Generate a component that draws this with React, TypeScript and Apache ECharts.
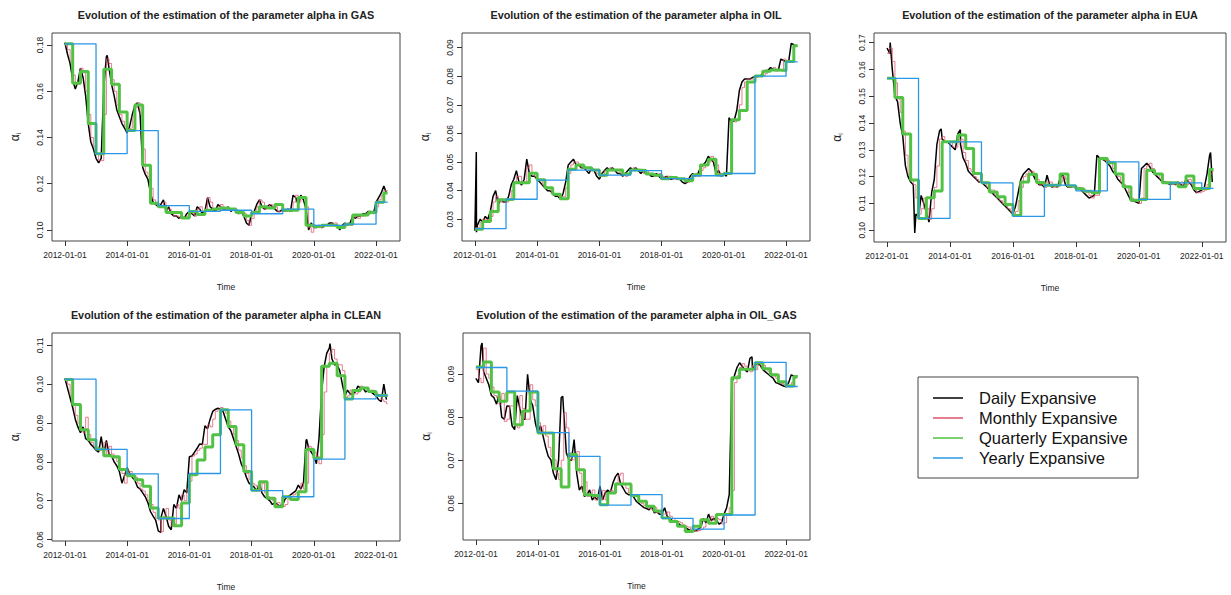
import { useEffect, useRef } from "react";
import * as echarts from "echarts";

// ---- time grid -----------------------------------------------------------
const FIRST_YEAR = 2012;
const LAST_OBS = 2022 + 4.5 / 12; // last estimation date (mid May 2022)
const X_MIN = 2011.585;
const X_MAX = 2022.77;
const xTicks = [2012, 2014, 2016, 2018, 2020, 2022];

const assets = ["GAS", "OIL", "EUA", "CLEAN", "OIL_GAS"];

// ---- daily expansive estimates (sampled once a month, Jan 2012 - May 2022)
const gasDaily = [
  0.181, 0.176, 0.172, 0.165, 0.161, 0.164, 0.170, 0.166, 0.158, 0.146, 0.138, 0.135,
  0.131, 0.129, 0.131, 0.162, 0.175, 0.170, 0.163, 0.158, 0.152, 0.149, 0.146, 0.144,
  0.142, 0.145, 0.150, 0.154, 0.155, 0.150, 0.127, 0.124, 0.122, 0.116, 0.112, 0.111,
  0.110, 0.111, 0.113, 0.108, 0.110, 0.107, 0.106, 0.106, 0.105, 0.106, 0.105, 0.107,
  0.108, 0.107, 0.106, 0.110, 0.109, 0.107, 0.108, 0.114, 0.110, 0.109, 0.108, 0.111,
  0.110, 0.109, 0.109, 0.110, 0.108, 0.109, 0.108, 0.107, 0.108, 0.106, 0.103, 0.102,
  0.107, 0.108, 0.111, 0.113, 0.110, 0.109, 0.110, 0.111, 0.110, 0.109, 0.108, 0.108,
  0.109, 0.108, 0.109, 0.108, 0.115, 0.114, 0.111, 0.115, 0.113, 0.109, 0.100, 0.103,
  0.101, 0.101, 0.102, 0.101, 0.102, 0.102, 0.103, 0.103, 0.102, 0.102, 0.100, 0.102,
  0.103, 0.102, 0.103, 0.106, 0.105, 0.106, 0.106, 0.107, 0.107, 0.108, 0.108, 0.107,
  0.112, 0.114, 0.116, 0.119, 0.116,
];
const oilDaily = [
  0.026, 0.028, 0.030, 0.029, 0.031, 0.030, 0.033, 0.038, 0.040, 0.035, 0.037, 0.036,
  0.036, 0.038, 0.042, 0.044, 0.047, 0.043, 0.042, 0.044, 0.051, 0.046, 0.045, 0.045,
  0.044, 0.043, 0.042, 0.041, 0.040, 0.040, 0.039, 0.038, 0.038, 0.037, 0.039, 0.043,
  0.049, 0.050, 0.051, 0.049, 0.049, 0.048, 0.048, 0.047, 0.046, 0.048, 0.047, 0.045,
  0.044, 0.046, 0.047, 0.048, 0.047, 0.048, 0.047, 0.046, 0.046, 0.045, 0.046, 0.047,
  0.048, 0.047, 0.048, 0.047, 0.046, 0.047, 0.046, 0.046, 0.045, 0.045, 0.046, 0.045,
  0.044, 0.0445, 0.045, 0.044, 0.044, 0.0445, 0.044, 0.044, 0.043, 0.0425, 0.043, 0.045,
  0.046, 0.045, 0.046, 0.048, 0.049, 0.050, 0.052, 0.051, 0.050, 0.046, 0.047, 0.045,
  0.046, 0.045, 0.0655, 0.064, 0.0645, 0.068, 0.075, 0.078, 0.079, 0.079, 0.079, 0.0795,
  0.080, 0.080, 0.080, 0.081, 0.082, 0.082, 0.083, 0.0825, 0.082, 0.082, 0.086, 0.0855,
  0.085, 0.085, 0.0915, 0.091, 0.0905,
];
const euaDaily = [
  0.168, 0.166, 0.160, 0.150, 0.148, 0.140, 0.135, 0.124, 0.120, 0.118, 0.117, 0.106,
  0.105, 0.113, 0.110, 0.1065, 0.103, 0.114, 0.119, 0.132, 0.137, 0.134, 0.133, 0.133,
  0.132, 0.131, 0.130, 0.136, 0.132, 0.127, 0.125, 0.122, 0.121, 0.120, 0.119, 0.118,
  0.118, 0.117, 0.116, 0.115, 0.114, 0.113, 0.112, 0.111, 0.110, 0.109, 0.108, 0.107,
  0.106, 0.109, 0.114, 0.119, 0.121, 0.122, 0.123, 0.122, 0.120, 0.118, 0.117, 0.117,
  0.116, 0.1205, 0.117, 0.116, 0.117, 0.116, 0.1195, 0.121, 0.117, 0.116, 0.116, 0.1165,
  0.116, 0.1155, 0.115, 0.114, 0.113, 0.112, 0.1125, 0.113, 0.128, 0.127, 0.1265, 0.126,
  0.125, 0.124, 0.122, 0.121, 0.119, 0.118, 0.117, 0.115, 0.113, 0.111, 0.111, 0.1105,
  0.110, 0.123, 0.124, 0.125, 0.124, 0.122, 0.121, 0.120, 0.119, 0.118, 0.118, 0.1175,
  0.117, 0.1175, 0.117, 0.118, 0.117, 0.1165, 0.119, 0.118, 0.117, 0.115, 0.114, 0.1145,
  0.115, 0.116, 0.121, 0.128, 0.118,
];
const cleanDaily = [
  0.1015, 0.099, 0.0965, 0.094, 0.091, 0.089, 0.0875, 0.089, 0.086, 0.0855, 0.0845, 0.0838,
  0.083, 0.0825, 0.0865, 0.082, 0.0855, 0.082, 0.0815, 0.080, 0.079, 0.0775, 0.0745, 0.0765,
  0.0785, 0.077, 0.076, 0.0752, 0.0735, 0.073, 0.072, 0.071, 0.0695, 0.0672, 0.066, 0.065,
  0.0622, 0.0655, 0.068, 0.066, 0.0634, 0.0625, 0.069, 0.068, 0.0715, 0.070, 0.0728, 0.072,
  0.0813, 0.0815, 0.0825, 0.0835, 0.0846, 0.0845, 0.0893, 0.0885, 0.091, 0.093, 0.0935, 0.0938,
  0.0935, 0.093, 0.091, 0.089, 0.088, 0.086, 0.084, 0.082, 0.0795, 0.078, 0.076, 0.0745,
  0.074, 0.0735, 0.0725, 0.0745, 0.072, 0.071, 0.0705, 0.070, 0.069, 0.0695, 0.069, 0.0685,
  0.069, 0.0705, 0.071, 0.0715, 0.072, 0.0725, 0.074, 0.073, 0.0745, 0.0855, 0.0835, 0.0825,
  0.0815, 0.0795, 0.086, 0.098, 0.1046, 0.108, 0.1093, 0.1065, 0.105, 0.105, 0.1035, 0.100,
  0.097, 0.0985, 0.0975, 0.0975, 0.098, 0.0995, 0.099, 0.099, 0.098, 0.0985, 0.098, 0.0975,
  0.097, 0.096, 0.0955, 0.100, 0.096,
];
const oilGasDaily = [
  0.089, 0.088, 0.0965, 0.0905, 0.089, 0.0875, 0.085, 0.0845, 0.083, 0.0855, 0.080, 0.0795,
  0.0826, 0.0825, 0.078, 0.0771, 0.085, 0.082, 0.0795, 0.0795, 0.0899, 0.0841, 0.0826, 0.0787,
  0.0763, 0.078, 0.0756, 0.073, 0.0709, 0.0701, 0.067, 0.0655, 0.0701, 0.0845, 0.081, 0.0717,
  0.0701, 0.070, 0.0748, 0.067, 0.0631, 0.064, 0.0616, 0.062, 0.0631, 0.0608, 0.0615, 0.0608,
  0.064, 0.0608, 0.0624, 0.0631, 0.0625, 0.0647, 0.0662, 0.067, 0.0645, 0.0635, 0.0624, 0.062,
  0.062, 0.0615, 0.0605, 0.060, 0.0595, 0.059, 0.0588, 0.0585, 0.0593, 0.0578, 0.058, 0.0575,
  0.0575, 0.059, 0.057, 0.0565, 0.056, 0.0558, 0.0555, 0.055, 0.0547, 0.0545, 0.054, 0.0537,
  0.0535, 0.0537, 0.054, 0.0545, 0.0565, 0.0555, 0.0575, 0.056, 0.0565, 0.0562, 0.0552, 0.0555,
  0.0575, 0.059, 0.062, 0.088, 0.0896, 0.0915, 0.0926, 0.0918, 0.091, 0.0905, 0.0936, 0.091,
  0.092, 0.0925, 0.092, 0.091, 0.0905, 0.090, 0.0895, 0.089, 0.088, 0.0878, 0.0875, 0.0872,
  0.087, 0.088, 0.0898, 0.0895, 0.089,
];

// isolated one-day jumps of the daily estimate: [year, value]
const gasSpikes: number[][] = [[2013.36, 0.1755]];
const oilSpikes: number[][] = [[2012.045, 0.0535], [2012.05, 0.0255]];
const euaSpikes: number[][] = [[2012.1, 0.170], [2012.88, 0.099], [2013.72, 0.1378], [2014.33, 0.1375], [2022.28, 0.129]];
const cleanSpikes: number[][] = [[2015.08, 0.0618], [2019.77, 0.0858], [2020.52, 0.1105]];
const oilGasSpikes: number[][] = [[2012.2, 0.0972], [2014.8, 0.0848], [2020.9, 0.094]];

// ---- monthly expansive estimates (Jan 2012 - May 2022)
const gasMonthly = [
  0.180, 0.178, 0.173, 0.167, 0.163, 0.163, 0.170, 0.168, 0.160, 0.150, 0.140, 0.136,
  0.133, 0.130, 0.130, 0.150, 0.174, 0.172, 0.165, 0.160, 0.154, 0.150, 0.147, 0.145,
  0.143, 0.144, 0.149, 0.153, 0.155, 0.150, 0.135, 0.125, 0.123, 0.118, 0.113, 0.111,
  0.110, 0.110, 0.112, 0.109, 0.109, 0.108, 0.106, 0.106, 0.105, 0.105, 0.105, 0.106,
  0.108, 0.107, 0.106, 0.109, 0.110, 0.108, 0.108, 0.114, 0.112, 0.109, 0.108, 0.110,
  0.111, 0.109, 0.109, 0.109, 0.109, 0.109, 0.108, 0.107, 0.108, 0.107, 0.104, 0.102,
  0.105, 0.108, 0.110, 0.113, 0.112, 0.109, 0.110, 0.111, 0.110, 0.110, 0.108, 0.108,
  0.108, 0.108, 0.109, 0.108, 0.112, 0.115, 0.112, 0.114, 0.114, 0.110, 0.101, 0.099,
  0.102, 0.101, 0.101, 0.101, 0.102, 0.102, 0.102, 0.103, 0.103, 0.102, 0.101, 0.101,
  0.102, 0.103, 0.102, 0.105, 0.106, 0.105, 0.106, 0.106, 0.107, 0.107, 0.108, 0.108,
  0.110, 0.113, 0.115, 0.117, 0.117,
];
const oilMonthly = [
  0.027, 0.027, 0.029, 0.030, 0.030, 0.029, 0.031, 0.036, 0.038, 0.037, 0.036, 0.036,
  0.036, 0.037, 0.040, 0.043, 0.045, 0.045, 0.043, 0.043, 0.048, 0.049, 0.046, 0.045,
  0.044, 0.044, 0.042, 0.041, 0.041, 0.040, 0.039, 0.039, 0.038, 0.038, 0.038, 0.041,
  0.046, 0.049, 0.050, 0.050, 0.049, 0.048, 0.048, 0.047, 0.047, 0.047, 0.047, 0.046,
  0.045, 0.045, 0.047, 0.047, 0.048, 0.047, 0.047, 0.047, 0.046, 0.046, 0.045, 0.046,
  0.047, 0.048, 0.047, 0.047, 0.047, 0.046, 0.047, 0.046, 0.046, 0.045, 0.045, 0.046,
  0.045, 0.044, 0.045, 0.045, 0.044, 0.044, 0.044, 0.044, 0.044, 0.043, 0.043, 0.044,
  0.045, 0.046, 0.045, 0.047, 0.048, 0.049, 0.050, 0.052, 0.050, 0.049, 0.046, 0.046,
  0.046, 0.046, 0.046, 0.065, 0.064, 0.065, 0.070, 0.076, 0.078, 0.079, 0.079, 0.079,
  0.0795, 0.080, 0.080, 0.080, 0.081, 0.082, 0.082, 0.083, 0.082, 0.082, 0.082, 0.086,
  0.0855, 0.085, 0.085, 0.091, 0.0905,
];
const euaMonthly = [
  0.166, 0.168, 0.163, 0.155, 0.149, 0.144, 0.137, 0.128, 0.121, 0.119, 0.117, 0.112,
  0.106, 0.108, 0.112, 0.108, 0.104, 0.108, 0.116, 0.124, 0.134, 0.135, 0.133, 0.133,
  0.133, 0.131, 0.131, 0.133, 0.134, 0.129, 0.126, 0.123, 0.122, 0.120, 0.119, 0.118,
  0.118, 0.118, 0.116, 0.115, 0.115, 0.113, 0.112, 0.111, 0.110, 0.110, 0.108, 0.107,
  0.106, 0.107, 0.111, 0.116, 0.120, 0.121, 0.122, 0.122, 0.121, 0.119, 0.117, 0.117,
  0.116, 0.118, 0.118, 0.116, 0.116, 0.117, 0.118, 0.120, 0.119, 0.116, 0.116, 0.116,
  0.116, 0.116, 0.115, 0.115, 0.114, 0.113, 0.112, 0.113, 0.113, 0.127, 0.127, 0.126,
  0.126, 0.125, 0.123, 0.121, 0.120, 0.118, 0.117, 0.116, 0.114, 0.112, 0.111, 0.111,
  0.110, 0.112, 0.123, 0.124, 0.125, 0.123, 0.121, 0.121, 0.119, 0.118, 0.118, 0.118,
  0.117, 0.117, 0.117, 0.117, 0.118, 0.117, 0.117, 0.119, 0.117, 0.116, 0.114, 0.114,
  0.1145, 0.115, 0.117, 0.121, 0.122,
];
const cleanMonthly = [
  0.1012, 0.100, 0.097, 0.095, 0.092, 0.090, 0.088, 0.0875, 0.0915, 0.087, 0.085, 0.084,
  0.0838, 0.083, 0.083, 0.085, 0.082, 0.084, 0.082, 0.081, 0.080, 0.078, 0.077, 0.0745,
  0.077, 0.0775, 0.0765, 0.076, 0.0745, 0.073, 0.0725, 0.0715, 0.070, 0.069, 0.067, 0.0655,
  0.065, 0.062, 0.066, 0.068, 0.065, 0.0635, 0.064, 0.069, 0.068, 0.0715, 0.070, 0.073,
  0.075, 0.0815, 0.082, 0.083, 0.0835, 0.0845, 0.0845, 0.0895, 0.089, 0.091, 0.093, 0.0935,
  0.094, 0.0935, 0.0925, 0.0905, 0.089, 0.087, 0.0855, 0.083, 0.081, 0.079, 0.077, 0.0755,
  0.0745, 0.074, 0.0735, 0.0725, 0.0745, 0.072, 0.071, 0.0705, 0.070, 0.069, 0.0695, 0.069,
  0.0685, 0.069, 0.0705, 0.071, 0.0715, 0.072, 0.0725, 0.0745, 0.073, 0.0745, 0.084, 0.0835,
  0.0825, 0.0815, 0.0795, 0.087, 0.098, 0.1045, 0.108, 0.109, 0.1065, 0.105, 0.105, 0.1035,
  0.0965, 0.097, 0.0985, 0.0975, 0.0975, 0.098, 0.0995, 0.099, 0.099, 0.098, 0.0985, 0.098,
  0.0975, 0.097, 0.096, 0.0955, 0.095,
];
const oilGasMonthly = [
  0.091, 0.089, 0.088, 0.096, 0.090, 0.089, 0.087, 0.085, 0.0845, 0.083, 0.0855, 0.079,
  0.0795, 0.0826, 0.0825, 0.078, 0.0775, 0.085, 0.082, 0.0795, 0.0795, 0.0875, 0.084, 0.0826,
  0.0787, 0.0763, 0.078, 0.0756, 0.073, 0.0709, 0.0701, 0.067, 0.0655, 0.070, 0.081, 0.0775,
  0.0717, 0.0701, 0.070, 0.072, 0.067, 0.0631, 0.065, 0.0616, 0.062, 0.0631, 0.0608, 0.0615,
  0.0608, 0.063, 0.0608, 0.0624, 0.0631, 0.0625, 0.0647, 0.0665, 0.067, 0.0645, 0.0635, 0.0624,
  0.062, 0.062, 0.0615, 0.0605, 0.060, 0.0595, 0.059, 0.0588, 0.0585, 0.059, 0.0578, 0.058,
  0.0575, 0.0575, 0.058, 0.057, 0.0565, 0.056, 0.0558, 0.0555, 0.055, 0.0547, 0.0545, 0.054,
  0.0537, 0.0535, 0.0537, 0.054, 0.0545, 0.056, 0.0555, 0.057, 0.056, 0.0565, 0.0562, 0.0552,
  0.0555, 0.0575, 0.059, 0.063, 0.088, 0.0896, 0.0915, 0.0924, 0.0918, 0.091, 0.0905, 0.092,
  0.091, 0.092, 0.0925, 0.092, 0.091, 0.0905, 0.090, 0.0895, 0.089, 0.088, 0.0878, 0.0875,
  0.0872, 0.087, 0.088, 0.0895, 0.0895,
];

// ---- quarterly expansive estimates (2012Q1 - 2022Q2)
const gasQuarterly = [
  0.1805, 0.1635, 0.1685, 0.146, 0.133, 0.1695, 0.163, 0.151, 0.143, 0.154, 0.128, 0.1115,
  0.110, 0.1075, 0.1075, 0.1052, 0.108, 0.1067, 0.1085, 0.109, 0.1095, 0.109, 0.1075, 0.106,
  0.1075, 0.110, 0.1095, 0.111, 0.1085, 0.1085, 0.114, 0.102, 0.1015, 0.102, 0.102, 0.101,
  0.1025, 0.1065, 0.1065, 0.1075, 0.112, 0.116,
];
const oilQuarterly = [
  0.0265, 0.0292, 0.0327, 0.0368, 0.037, 0.0428, 0.0428, 0.0461, 0.0438, 0.041, 0.0387, 0.0372,
  0.0475, 0.049, 0.048, 0.0472, 0.0454, 0.0472, 0.0472, 0.0458, 0.0472, 0.047, 0.0458, 0.0454,
  0.0442, 0.0446, 0.0442, 0.0435, 0.0455, 0.049, 0.051, 0.0455, 0.046, 0.0648, 0.068, 0.078,
  0.0801, 0.0817, 0.0822, 0.082, 0.0851, 0.0906,
];
const euaQuarterly = [
  0.1567, 0.1495, 0.1359, 0.1187, 0.1044, 0.1121, 0.1146, 0.133, 0.133, 0.1355, 0.1305, 0.1212,
  0.1177, 0.1143, 0.1125, 0.1096, 0.1055, 0.118, 0.1209, 0.1178, 0.1168, 0.1168, 0.121, 0.1165,
  0.1155, 0.1145, 0.114, 0.1268, 0.1252, 0.121, 0.1162, 0.1112, 0.1115, 0.1224, 0.121, 0.1177,
  0.1177, 0.1162, 0.1202, 0.1156, 0.1156, 0.1227,
];
const cleanQuarterly = [
  0.1012, 0.0948, 0.0883, 0.0857, 0.0833, 0.0816, 0.0813, 0.078, 0.0764, 0.0754, 0.0737, 0.0681,
  0.0655, 0.0655, 0.0635, 0.0694, 0.0767, 0.0805, 0.0838, 0.087, 0.0934, 0.0891, 0.0844, 0.0775,
  0.0727, 0.0749, 0.0706, 0.0684, 0.071, 0.0703, 0.0723, 0.0832, 0.0809, 0.1046, 0.1054, 0.1022,
  0.0962, 0.0984, 0.099, 0.0981, 0.0971, 0.0971,
];
const oilGasQuarterly = [
  0.0916, 0.0928, 0.0858, 0.0837, 0.0858, 0.0782, 0.0814, 0.0858, 0.0763, 0.0763, 0.068, 0.0638,
  0.0713, 0.0678, 0.062, 0.0618, 0.0597, 0.0624, 0.0645, 0.0645, 0.0618, 0.0605, 0.0593, 0.0582,
  0.0566, 0.0558, 0.0547, 0.0535, 0.0547, 0.0562, 0.0554, 0.0574, 0.0574, 0.0891, 0.0911, 0.0911,
  0.0926, 0.0912, 0.0898, 0.0882, 0.0872, 0.0894,
];

// ---- yearly expansive estimates (2012 - 2022)
const gasYearly = [0.1805, 0.133, 0.143, 0.1105, 0.108, 0.1085, 0.107, 0.109, 0.102, 0.1025, 0.112];
const oilYearly = [0.0267, 0.037, 0.0437, 0.0472, 0.0454, 0.047, 0.0442, 0.0452, 0.046, 0.080, 0.085];
const euaYearly = [0.1567, 0.1044, 0.133, 0.1177, 0.1052, 0.1168, 0.1147, 0.1255, 0.1115, 0.1177, 0.1156];
const cleanYearly = [0.1013, 0.0832, 0.0769, 0.0654, 0.077, 0.0934, 0.0726, 0.071, 0.0807, 0.0962, 0.0971];
const oilGasYearly = [0.0915, 0.086, 0.0764, 0.0709, 0.0596, 0.062, 0.0565, 0.054, 0.0573, 0.0927, 0.0871];

// ---- y axis ranges and tick labels per panel
const yRanges = [
  [0.0952, 0.1852],
  [0.0224, 0.0951],
  [0.0956, 0.1736],
  [0.0596, 0.1132],
  [0.0515, 0.0995],
];
const yTicks = [
  [0.1, 0.12, 0.14, 0.16, 0.18],
  [0.03, 0.04, 0.05, 0.06, 0.07, 0.08, 0.09],
  [0.1, 0.11, 0.12, 0.13, 0.14, 0.15, 0.16, 0.17],
  [0.06, 0.07, 0.08, 0.09, 0.1, 0.11],
  [0.06, 0.07, 0.08, 0.09],
];

const dailySets = [gasDaily, oilDaily, euaDaily, cleanDaily, oilGasDaily];
const spikeSets = [gasSpikes, oilSpikes, euaSpikes, cleanSpikes, oilGasSpikes];
const monthlySets = [gasMonthly, oilMonthly, euaMonthly, cleanMonthly, oilGasMonthly];
const quarterlySets = [gasQuarterly, oilQuarterly, euaQuarterly, cleanQuarterly, oilGasQuarterly];
const yearlySets = [gasYearly, oilYearly, euaYearly, cleanYearly, oilGasYearly];

const seriesNames = ["Daily Expansive", "Monthly Expansive", "Quarterly Expansive", "Yearly Expansive"];
const seriesColors = ["#000000", "#DF536B", "#52C244", "#2A98E6"];

// ---- layout
const plotBoxes = [
  { left: 52, top: 33, width: 348, height: 208 },
  { left: 462, top: 33, width: 348, height: 208 },
  { left: 874, top: 33, width: 352, height: 209 },
  { left: 52, top: 333, width: 348, height: 208 },
  { left: 463, top: 333, width: 347, height: 207 },
];

const FONT = "'Liberation Sans', Arial, Helvetica, sans-serif";
const INK = "#222";

function stepPoints(values: number[], periodsPerYear: number): number[][] {
  const pts = values.map((v, i) => [FIRST_YEAR + i / periodsPerYear, v]);
  pts.push([LAST_OBS, values[values.length - 1]]);
  return pts;
}

function dailyPoints(values: number[], spikes: number[][]): number[][] {
  const pts = values.map((v, i) => [FIRST_YEAR + i / 12, v]);
  return pts.concat(spikes).sort((a, b) => a[0] - b[0]);
}

function buildOption() {
  const grid: any[] = [];
  const xAxis: any[] = [];
  const yAxis: any[] = [];
  const series: any[] = [];
  const graphic: any[] = [];

  plotBoxes.forEach((box, i) => {
    grid.push({
      ...box,
      show: true,
      borderColor: "#444",
      borderWidth: 1,
      backgroundColor: "transparent",
    });
    xAxis.push({
      type: "value",
      gridIndex: i,
      min: X_MIN,
      max: X_MAX,
      name: "Time",
      nameLocation: "middle",
      nameGap: 41,
      nameTextStyle: { fontFamily: FONT, fontSize: 8.5, color: INK },
      axisLine: { show: false },
      splitLine: { show: false },
      axisTick: { show: true, inside: false, length: 5, customValues: xTicks, lineStyle: { color: "#333" } },
      axisLabel: {
        customValues: xTicks,
        formatter: (v: number) => `${Math.round(v)}-01-01`,
        fontFamily: FONT,
        fontSize: 8.5,
        color: INK,
        margin: 9,
      },
    });
    yAxis.push({
      type: "value",
      gridIndex: i,
      min: yRanges[i][0],
      max: yRanges[i][1],
      name: "{a|α}{b|i}",
      nameLocation: "middle",
      nameGap: 30,
      nameRotate: 90,
      nameTextStyle: {
        fontFamily: FONT,
        color: INK,
        rich: {
          a: { fontFamily: FONT, fontSize: 12, color: INK, lineHeight: 14 },
          b: { fontFamily: FONT, fontSize: 7, color: INK, verticalAlign: "bottom", lineHeight: 8 },
        },
      },
      axisLine: { show: false },
      splitLine: { show: false },
      axisTick: { show: true, inside: false, length: 5, customValues: yTicks[i], lineStyle: { color: "#333" } },
      axisLabel: {
        customValues: yTicks[i],
        formatter: (v: number) => v.toFixed(2),
        rotate: 90,
        fontFamily: FONT,
        fontSize: 8.5,
        color: INK,
        margin: 8,
      },
    });

    const common = {
      type: "line",
      xAxisIndex: i,
      yAxisIndex: i,
      symbol: "none",
      silent: true,
      clip: true,
      animation: false,
    };
    series.push({
      ...common,
      name: seriesNames[0],
      data: dailyPoints(dailySets[i], spikeSets[i]),
      lineStyle: { color: seriesColors[0], width: 1.5 },
      z: 2,
    });
    series.push({
      ...common,
      name: seriesNames[1],
      step: "end",
      data: stepPoints(monthlySets[i], 12),
      lineStyle: { color: seriesColors[1], width: 1, opacity: 0.75 },
      z: 3,
    });
    series.push({
      ...common,
      name: seriesNames[2],
      step: "end",
      data: stepPoints(quarterlySets[i], 4),
      lineStyle: { color: seriesColors[2], width: 3 },
      z: 4,
    });
    series.push({
      ...common,
      name: seriesNames[3],
      step: "end",
      data: stepPoints(yearlySets[i], 1),
      lineStyle: { color: seriesColors[3], width: 1.3 },
      z: 5,
    });

    graphic.push({
      type: "text",
      x: box.left + box.width / 2,
      y: box.top - 18,
      style: {
        text: `Evolution of the estimation of the parameter alpha in ${assets[i]}`,
        fontFamily: FONT,
        fontSize: 10.8,
        fontWeight: "bold",
        fill: INK,
        align: "center",
        verticalAlign: "middle",
      },
    });
  });

  // legend box
  const lg = { left: 918, top: 377, width: 220, height: 101 };
  graphic.push({
    type: "rect",
    shape: { x: lg.left, y: lg.top, width: lg.width, height: lg.height },
    style: { fill: "#fff", stroke: "#444", lineWidth: 1 },
  });
  seriesNames.forEach((name, k) => {
    const y = lg.top + 21 + k * 20;
    graphic.push({
      type: "line",
      shape: { x1: lg.left + 15, y1: y, x2: lg.left + 45, y2: y },
      style: { stroke: seriesColors[k], lineWidth: 1.5 },
    });
    graphic.push({
      type: "text",
      x: lg.left + 61,
      y,
      style: {
        text: name,
        fontFamily: FONT,
        fontSize: 16.5,
        fill: "#111",
        align: "left",
        verticalAlign: "middle",
      },
    });
  });

  return {
    animation: false,
    backgroundColor: "#ffffff",
    grid,
    xAxis,
    yAxis,
    series,
    graphic,
  };
}

export default function App() {
  const ref = useRef<HTMLDivElement>(null);

  useEffect(() => {
    if (!ref.current) return;
    const chart = echarts.init(ref.current, null, { renderer: "svg" });
    chart.setOption(buildOption() as any);
    return () => chart.dispose();
  }, []);

  return (
    <div
      ref={ref}
      style={{ position: "absolute", left: 0, top: 0, width: 1231, height: 595, background: "#fff" }}
    />
  );
}
